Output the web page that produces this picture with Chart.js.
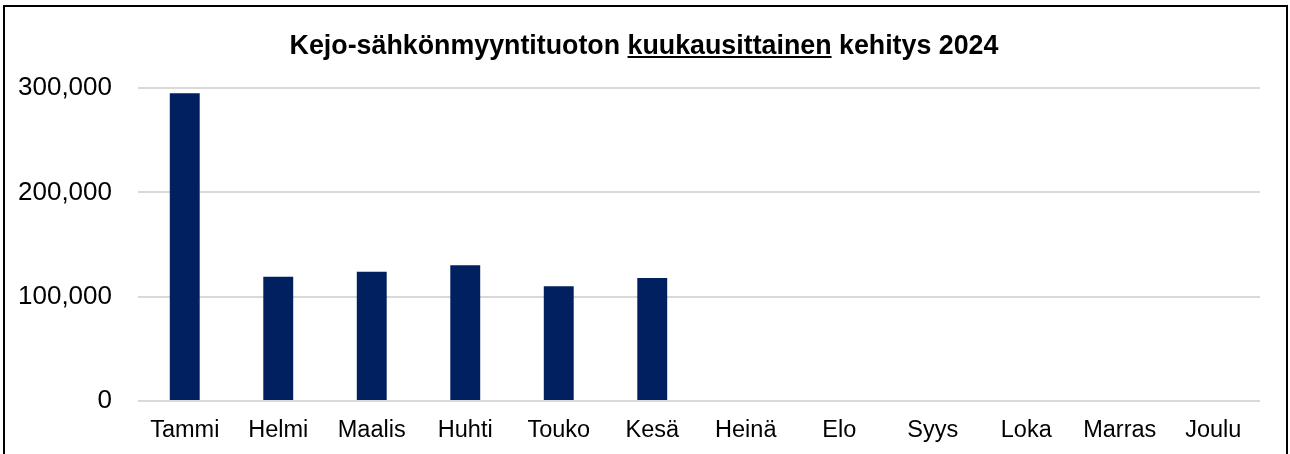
<!DOCTYPE html>
<html>
<head>
<meta charset="utf-8">
<script src="https://cdn.jsdelivr.net/npm/chart.js@4.4.1/dist/chart.umd.min.js"></script>
<style>
  html, body { margin: 0; padding: 0; background: #fff; }
  #wrap { position: relative; width: 1290px; height: 454px; overflow: hidden; }
  #frame { position: absolute; left: 3px; top: 5px; width: 1281px; height: 470px; border: 2px solid #000; pointer-events: none; }
  canvas { position: absolute; left: 0; top: 0; }
</style>
</head>
<body>
<div id="wrap">
  <canvas id="chart" width="1290" height="454"></canvas>
  <div id="frame"></div>
</div>
<script>
var months = ['Tammi', 'Helmi', 'Maalis', 'Huhti', 'Touko', 'Kesä', 'Heinä', 'Elo', 'Syys', 'Loka', 'Marras', 'Joulu'];
var revenue = [295000, 119000, 124000, 130000, 110000, 118000, null, null, null, null, null, null];
var yTicks = [0, 100000, 200000, 300000];

var titleBefore = 'Kejo-sähkönmyyntituoton ';
var titleUnderlined = 'kuukausittainen';
var titleAfter = ' kehitys 2024';

var fontFamily = '"Liberation Sans", Arial, sans-serif';
var titleSize = 26.8;

// title drawn centred on the whole frame, with the middle word underlined
var titlePlugin = {
	id: 'kejoTitle',
	afterDraw: function(chart) {
		var ctx = chart.ctx;
		ctx.save();
		ctx.font = 'bold ' + titleSize + 'px ' + fontFamily;
		ctx.fillStyle = '#000';
		ctx.textBaseline = 'alphabetic';
		ctx.textAlign = 'left';
		var text = titleBefore + titleUnderlined + titleAfter;
		var full = ctx.measureText(text).width;
		var x = 644 - full / 2;
		var baseline = 54;
		ctx.fillText(text, x, baseline);
		var x0 = x + ctx.measureText(titleBefore).width;
		var w = ctx.measureText(titleUnderlined).width;
		ctx.fillRect(x0, baseline + 2, w, 2);
		ctx.restore();
	}
};

var data = {
	labels: months,
	datasets: [{
		label: 'Tuotto',
		data: revenue,
		backgroundColor: '#002060',
		borderWidth: 0,
		categoryPercentage: 1,
		barPercentage: 0.32
	}]
};

var config = {
	type: 'bar',
	data: data,
	options: {
		responsive: false,
		animation: false,
		layout: { padding: { left: 0, right: 30, top: 88, bottom: 0 } },
		plugins: {
			legend: false,
			tooltip: { enabled: false },
			title: { display: false }
		},
		scales: {
			x: {
				grid: { display: false, drawTicks: false },
				border: { display: false },
				ticks: { color: '#000', padding: 15, font: { family: fontFamily, size: 23.5 } },
				afterFit: function(axis) { axis.height = 53; }
			},
			y: {
				min: yTicks[0],
				max: yTicks[yTicks.length - 1],
				afterBuildTicks: function(axis) {
					axis.ticks = yTicks.map(function(v) { return { value: v }; });
				},
				grid: { color: '#d9d9d9', lineWidth: 2, drawTicks: false },
				border: { display: false },
				ticks: {
					color: '#000',
					padding: 26,
					font: { family: fontFamily, size: 26 },
					callback: function(v) { return v.toLocaleString('en-US'); }
				},
				afterFit: function(axis) { axis.width = 138; }
			}
		}
	},
	plugins: [titlePlugin]
};

var myChart = new Chart(document.getElementById('chart'), config);
</script>
</body>
</html>
